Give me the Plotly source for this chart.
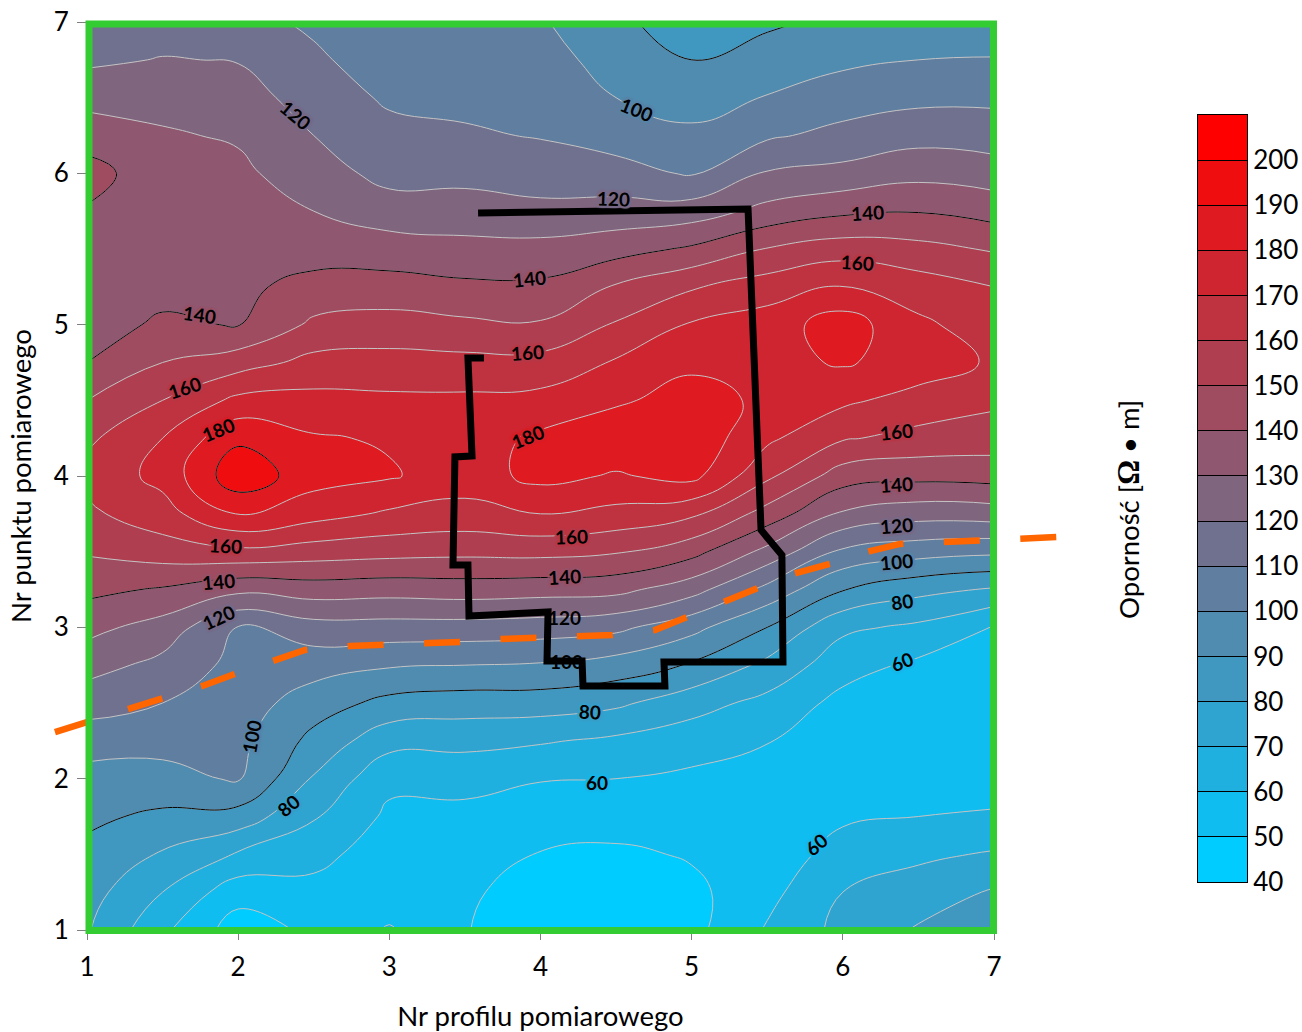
import plotly.graph_objects as go
import numpy as np

FONT = "Lato"
profiles = [1, 1.5, 2, 2.5, 3, 3.5, 4, 4.5, 5, 5.5, 6, 6.5, 7]
points = [1 + 0.25 * i for i in range(25)]

p10 = [81,84,87.5,92,96,105,114,124,133,142.5,151,158,163,158,150,140,136,133,134,139,144.5,135,127,118,112]
p15 = [62,70,79,88,97,103,110,117,126,139,155,166,173,170,160,150,141.5,137,134.5,133.5,133,131,127,120.5,115]
p20 = [45,54,69,86,101,103,105,107,109.5,132.5,157.5,180.5,197,188,172.5,155.5,139.5,138,136,134,132,129,124.5,119.5,114]
p25 = [52,57,63,71,79,87,95,104,116,135,155,174,184,181,173,163,152,143,136,130,125,120,115.5,112,108]
p30 = [61,54,55,58,62.5,73.5,87,101,116,134,153.5,168.5,181,179,172,163.5,154,144,134.5,125,116.5,113,108.5,104,100.5]
p35 = [50.5,51.5,55.5,57.5,63,73,85,100,116,135,152.5,166.5,175,175,172,163,152,142,133,124.5,117,111,108,105,101.5]
p40 = [44,46,49.5,55,60.5,71,85,99,115,134,153,170,183,182,173,163.5,151,142,133,123,114.5,109.5,106,103.5,101]
p45 = [42,44,48,55,60,68,82,95.5,112.5,133,151,167,179,187,178.5,171,161,151,136,124,113.5,106,100,96.5,92.5]
p50 = [47,47.5,51,55,58,64.5,74,89,103,124,143.5,162,183,187,184,178,171,159,141.5,125,109,102,96,90,84]
p55 = [61,57,54,53,55,60.5,67,77.5,90,107,127,146,162,172,178,177,175,165,150.5,133,121,108.5,100.5,94,88.5]
p60 = [73,70,64,58.5,53,54,57,64,72,90.5,108,128.5,145,161,172,181,185,171,155,138,123,113,105,98,92]
p65 = [81,75,68,60,56,54,54.5,58,68,83,104,124,143,157,166,176,172,165,153,139.5,127,116.5,107.5,100,93]
p70 = [89.5,81,71,61,56,53,54,56,59,79,102,125,144,155,162,168.5,165,160,149,136,125,115,108,100.5,94]

band_colors = ["#00CCFF", "#10BDF0", "#20B0E0", "#30A4D0", "#4098C0", "#508BB0", "#607EA0", "#70708F",
               "#80657F", "#8F5870", "#A04C60", "#AF3F50", "#BF3340", "#CF2530", "#DF1A20", "#EF0D10", "#FF0000"]
band_edges = list(range(40, 211, 10))
band_mids = [45, 55, 65, 75, 85, 95, 105, 115, 125, 135, 145, 155, 165, 175, 185, 195, 205]
bar_ticks = list(range(40, 201, 10))

outline_x = [3.587,5.373,5.459,5.597,5.604,4.817,4.823,4.281,4.275,4.043,4.050,3.527,3.520,3.421,3.434,3.547,3.520,3.626]
outline_y = [5.738,5.764,3.643,3.478,2.771,2.771,2.612,2.612,2.778,2.778,3.101,3.075,3.412,3.412,4.126,4.132,4.780,4.780]

dashed_x = [0.788,1.020,1.284,1.483,1.781,1.959,2.244,2.442,2.740,2.938,3.236,3.467,3.732,3.977,4.248,4.473,4.757,4.969,5.220,5.452,5.664,5.915,6.180,6.378,6.676,6.907,7.192,7.423]
dashed_y = [2.308,2.381,2.467,2.520,2.619,2.685,2.784,2.850,2.877,2.883,2.897,2.903,2.923,2.930,2.943,2.949,2.982,3.068,3.181,3.267,3.352,3.419,3.504,3.551,3.564,3.570,3.590,3.597]

label_text = [120,100,120,140,160,140,140,160,160,180,180,160,140,160,160,140,140,120,120,120,100,100,80,60,80,100,60,80,60]
label_x = [2.376,4.638,4.486,6.166,6.100,3.930,1.741,3.911,1.648,1.873,3.917,6.358,6.352,1.913,4.208,1.867,4.162,6.352,1.867,4.162,6.358,4.169,6.391,6.391,4.327,2.085,4.374,2.330,5.822]
label_y = [6.386,6.419,5.837,5.738,5.414,5.302,5.064,4.813,4.588,4.304,4.264,4.291,3.947,3.538,3.597,3.306,3.333,3.676,3.068,3.068,3.432,2.771,3.174,2.771,2.447,2.275,1.978,1.826,1.568]
label_angle = [40,22,2,-3,3,-6,8,-4,-18,-22,-22,-6,-4,3,-2,-5,-3,-5,-25,0,-5,0,-8,-22,3,-80,0,-40,-40]
on_outline = [False] * 19 + [True, False, True] + [False] * 7

z = np.array([p10,p15,p20,p25,p30,p35,p40,p45,p50,p55,p60,p65,p70]).T.tolist()
n = len(band_colors)
scale = [[i / (n - 1), c] for i, c in enumerate(band_colors)]
levels = dict(start=50, end=200, size=10)
W, H = 1302, 1032

fig = go.Figure()
fig.add_trace(go.Contour(
    x=profiles, y=points, z=z, colorscale=scale, autocontour=False, contours=dict(coloring="fill", **levels),
    line=dict(color="#C4C4C4", width=1, smoothing=1.3), showscale=False,
))
fig.add_trace(go.Contour(
    x=profiles, y=points, z=z, autocontour=False, showscale=False, hoverinfo="skip",
    contours=dict(coloring="none", start=90, end=190, size=50),
    line=dict(color="black", width=1, smoothing=1.3),
))
fig.add_trace(go.Scatter(x=outline_x, y=outline_y, mode="lines",
                         line=dict(color="black", width=7), showlegend=False))
# Dashed line runs past the plot area, so it sits on a full-page overlay axis pair with the same units.
fig.add_trace(go.Scatter(x=dashed_x, y=dashed_y, xaxis="x2", yaxis="y2", mode="lines",
                         line=dict(color="#FF6600", width=6.5, dash="36px,40.5px"), showlegend=False))
# Colour bar
fig.add_trace(go.Heatmap(x=[0, 1], y=band_edges, z=[[m] for m in band_mids], xaxis="x3", yaxis="y3",
                         colorscale=scale, zmin=45, zmax=205, showscale=False, hoverinfo="skip"))


def halo(level):
    i = (level - 40) // 10
    a, b = band_colors[i - 1], band_colors[i]
    mix = "#" + "".join(f"{(int(a[k:k+2],16)+int(b[k:k+2],16))//2:02X}" for k in (1, 3, 5))
    return ", ".join(f"{dx}px {dy}px 1px {mix}" for dx, dy in
                     [(2, 0), (-2, 0), (0, 2), (0, -2), (2, 2), (-2, -2), (2, -2), (-2, 2)])


annotations = [
    dict(text=f"<b>{t}</b>", x=lx, y=ly, textangle=a, showarrow=False, xanchor="center", yanchor="middle",
         font=dict(family=FONT, size=19, color="black", shadow="none" if hit else halo(t)))
    for t, lx, ly, a, hit in zip(label_text, label_x, label_y, label_angle, on_outline)
]
annotations.append(dict(
    text='Oporność [<b><span style="font-family:Liberation Serif;font-size:31px">Ω</span></b> • m]',
    xref="paper", yref="paper", x=1128 / W, y=(H - 510) / H, textangle=-90, showarrow=False,
    xanchor="center", yanchor="middle", font=dict(family=FONT, size=27.5, color="black")))

axis = dict(range=[1, 7], tickmode="array", tickvals=[1, 2, 3, 4, 5, 6, 7], ticks="outside", ticklen=9,
            tickcolor="#808080", tickwidth=1, showgrid=False, zeroline=False, showline=False,
            tickfont=dict(family=FONT, size=26, color="black"))
title_font = dict(family=FONT, size=27.5, color="black")
hidden = dict(visible=False, showgrid=False, zeroline=False, fixedrange=True)
fig.update_layout(
    width=W, height=H, autosize=False, showlegend=False,
    margin=dict(l=0, r=0, t=0, b=0, autoexpand=False), paper_bgcolor="white", plot_bgcolor="rgba(0,0,0,0)",
    xaxis=dict(axis, domain=[87 / W, 994 / W], anchor="y", ticklabelstandoff=5,
               title=dict(text="Nr profilu pomiarowego", font=title_font, standoff=26)),
    yaxis=dict(axis, domain=[(H - 930) / H, (H - 22) / H], anchor="x", ticklabelstandoff=3,
               title=dict(text="Nr punktu pomiarowego", font=title_font, standoff=14)),
    xaxis2=dict(hidden, domain=[0, 1], range=[1 - 87 / 151.17, 7 + 308 / 151.17], anchor="y2"),
    yaxis2=dict(hidden, domain=[0, 1], range=[1 - 102 / 151.33, 7 + 22 / 151.33], anchor="x2"),
    xaxis3=dict(hidden, domain=[1198 / W, 1247 / W], range=[0, 1], anchor="y3", visible=True, showticklabels=False,
                ticks="", showline=True, linecolor="black", linewidth=1, mirror=True),
    yaxis3=dict(domain=[(H - 882) / H, (H - 115) / H], range=[40, 210], anchor="x3", side="right",
                tickmode="array", tickvals=bar_ticks, ticktext=[str(t) for t in bar_ticks],
                ticks="inside", ticklen=49, tickcolor="black", tickwidth=1, showgrid=False, zeroline=False,
                showline=True, linecolor="black", linewidth=1, mirror=True, ticklabelstandoff=0,
                tickfont=dict(family=FONT, size=26, color="black")),
    annotations=annotations,
    shapes=[dict(type="rect", xref="paper", yref="paper", x0=89 / W, x1=993.5 / W,
                 y0=(H - 930.5) / H, y1=(H - 24) / H, line=dict(color="#33CC33", width=7), layer="above")],
)
fig.write_html("out.html", config=dict(displayModeBar=False), post_script="document.body.style.margin='0';")
